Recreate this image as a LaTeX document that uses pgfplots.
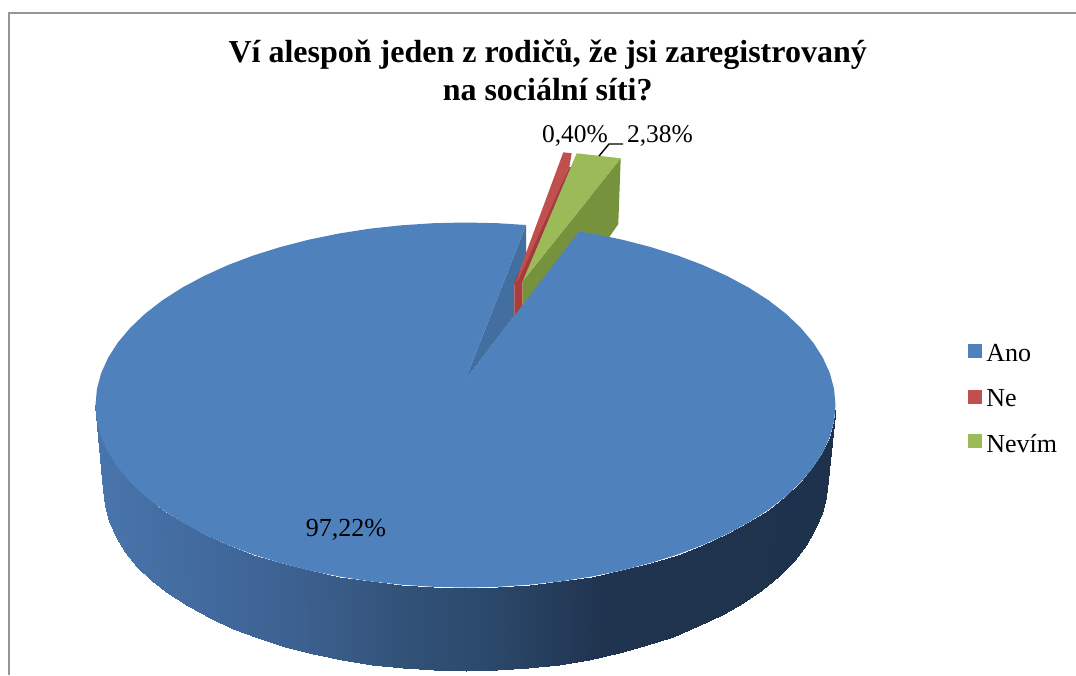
\documentclass[border=0pt]{standalone}
\usepackage{pgfplots}
\pgfplotsset{compat=1.18}
\usepackage{fontspec}
\setmainfont{Liberation Serif}
\definecolor{blueT}{RGB}{79,129,189}
\definecolor{blueW}{RGB}{66,110,160}
\definecolor{redT}{RGB}{192,80,77}
\definecolor{redD}{RGB}{160,60,58}
\definecolor{redM}{RGB}{170,62,60}
\definecolor{greenT}{RGB}{155,187,89}
\definecolor{greenD}{RGB}{118,146,60}
\definecolor{frameG}{RGB}{150,150,150}
\begin{document}
\begin{tikzpicture}
\path[use as bounding box] (0,0) rectangle (1076pt,675pt);
\begin{axis}[
  at={(0pt,0pt)},anchor=south west,
  scale only axis,width=1076pt,height=675pt,
  xmin=0,xmax=1076,ymin=0,ymax=675,y dir=reverse,
  hide axis,
  colormap={side}{rgb255(0pt)=(72,117,172); rgb255(104pt)=(66,106,158); rgb255(204pt)=(60,96,143); rgb255(304pt)=(50,82,120); rgb255(404pt)=(42,71,105); rgb255(504pt)=(32,52,80); rgb255(739pt)=(30,50,76)},
  point meta min=96,point meta max=835,
  title style={at={(axis description cs:0.509,0.938)},anchor=north,align=center,font=\fontsize{32}{38}\selectfont\bfseries},
  title={Ví alespoň jeden z rodičů, že jsi zaregistrovaný\\na sociální síti?},
  legend style={at={(axis description cs:0.8995,0.493)},anchor=north west,draw=none,fill=none,font=\fontsize{26}{30}\selectfont,row sep=22.2pt,inner sep=0pt,legend cell align=left,/tikz/every odd column/.append style={column sep=3pt},nodes={inner xsep=2pt}},
]
\addlegendimage{only marks,mark=square*,mark size=6.6pt,mark options={draw=blueT,fill=blueT,yshift=3pt}}
\addlegendentry{Ano}
\addlegendimage{only marks,mark=square*,mark size=6.6pt,mark options={draw=redT,fill=redT,yshift=2pt}}
\addlegendentry{Ne}
\addlegendimage{only marks,mark=square*,mark size=6.6pt,mark options={draw=greenT,fill=greenT,yshift=3pt}}
\addlegendentry{Nevím}
% frame
\addplot[forget plot,frameG,line width=2pt] coordinates {(8.5,675)(8.5,13)(1076,13)};
% side wall with gradient
\addplot[forget plot,patch,patch type=rectangle,shader=interp,table/row sep=\\,
 patch table={0 1 3 2\\2 3 5 4\\4 5 7 6\\6 7 9 8\\8 9 11 10\\10 11 13 12\\12 13 15 14\\14 15 17 16\\16 17 19 18\\18 19 21 20\\20 21 23 22\\22 23 25 24\\24 25 27 26\\26 27 29 28\\28 29 31 30\\30 31 33 32\\32 33 35 34\\34 35 37 36\\36 37 39 38\\38 39 41 40\\40 41 43 42\\42 43 45 44\\44 45 47 46\\46 47 49 48\\48 49 51 50\\50 51 53 52\\52 53 55 54\\54 55 57 56\\56 57 59 58\\58 59 61 60\\60 61 63 62\\62 63 65 64\\64 65 67 66\\66 67 69 68\\68 69 71 70\\70 71 73 72\\}]
 table[point meta=\thisrow{c}] {
x y c\\
95.5 405 96\\ 103.5 490 96\\
96.9 420.9 97\\ 104.9 505.8 97\\
101.1 436.7 101\\ 109 521.4 101\\
108.1 452.2 108\\ 115.8 536.8 108\\
117.8 467.4 118\\ 125.3 551.9 118\\
130.2 482.1 130\\ 137.4 566.5 130\\
145.1 496.3 145\\ 152 580.5 145\\
162.4 509.7 162\\ 168.9 593.8 162\\
182.1 522.3 182\\ 188.2 606.3 182\\
203.9 534 204\\ 209.5 618 204\\
227.7 544.8 228\\ 232.8 628.6 228\\
253.3 554.5 253\\ 257.9 638.3 253\\
280.5 563 280\\ 284.5 646.7 280\\
309.1 570.4 309\\ 312.5 654 309\\
339 576.5 339\\ 341.7 660.1 339\\
369.7 581.3 370\\ 371.8 664.8 370\\
401.3 584.7 401\\ 402.7 668.2 401\\
433.2 586.8 433\\ 433.9 670.3 433\\
465.5 587.5 465\\ 465.5 671 465\\
497.8 586.8 498\\ 497.1 670.3 498\\
529.7 584.7 530\\ 528.3 668.1 530\\
561.3 581.3 561\\ 559.2 664.5 561\\
592 576.5 592\\ 589.3 659.5 592\\
621.9 570.4 622\\ 618.5 653.1 622\\
650.5 563 650\\ 646.5 645.4 650\\
677.7 554.5 678\\ 673.1 636.5 678\\
703.3 544.8 703\\ 698.2 626.3 703\\
727.1 534 727\\ 721.5 615.1 727\\
748.9 522.3 749\\ 742.8 602.8 749\\
768.6 509.7 769\\ 762.1 589.6 769\\
785.9 496.3 786\\ 779 575.5 786\\
800.8 482.1 801\\ 793.6 560.7 801\\
813.2 467.4 813\\ 805.7 545.3 813\\
822.9 452.2 823\\ 815.2 529.4 823\\
829.9 436.7 830\\ 822 513.2 830\\
834.1 420.9 834\\ 826.1 496.7 834\\
835.5 405 835\\ 827.5 480 835\\
};
% blue inner wall
\addplot[forget plot,fill=blueW,draw=none] coordinates {(465.5,379.5)(526,225)(526,255)(514.3,285)(514.3,316)} -- cycle;
% green (2,38 %)
\addplot[forget plot,fill=greenD,draw=none] coordinates {(620.7,158.3)(618.3,224)(609.3,237)(605,241)(579.3,238)(522.3,306)(522.3,281.7)} -- cycle;
\addplot[forget plot,fill=greenT,draw=none] coordinates {(576.7,153.3)(620.7,158.3)(522.3,281.7)} -- cycle;
% red (0,40 %)
\addplot[forget plot,fill=redM,draw=none] coordinates {(514.3,282)(522.3,282)(522.3,306)(514.3,318)} -- cycle;
\addplot[forget plot,fill=redD,draw=none] coordinates {(569.3,167)(570.9,167)(522.3,282)(514.3,282)} -- cycle;
\addplot[forget plot,fill=redT,draw=none] coordinates {(563.3,152.3)(571.7,153.3)(569.3,167)(518,281)(514.5,282)(516.7,280)(526,253)} -- cycle;
% blue top surface
\addplot[forget plot,fill=blueT,draw=none] coordinates {
(465.5,379.5)(526,225)(497.8,223.2)(465.5,222.5)(433.2,223.2)(401.3,225.3)(369.7,228.7)(339,233.5)(309.1,239.6)(280.5,247)(253.3,255.5)(227.7,265.2)(203.9,276)(182.1,287.7)(162.4,300.3)(145.1,313.7)(130.2,327.9)(117.8,342.6)(108.1,357.8)(101.1,373.3)(96.9,389.1)(95.5,405)
(96.9,420.9)(101.1,436.7)(108.1,452.2)(117.8,467.4)(130.2,482.1)(145.1,496.3)(162.4,509.7)(182.1,522.3)(203.9,534)(227.7,544.8)(253.3,554.5)(280.5,563)(309.1,570.4)(339,576.5)(369.7,581.3)(401.3,584.7)(433.2,586.8)(465.5,587.5)
(497.8,586.8)(529.7,584.7)(561.3,581.3)(592,576.5)(621.9,570.4)(650.5,563)(677.7,554.5)(703.3,544.8)(727.1,534)(748.9,522.3)(768.6,509.7)(785.9,496.3)(800.8,482.1)(813.2,467.4)(822.9,452.2)(829.9,436.7)(834.1,420.9)(835.5,405)
(834.1,389.1)(829.9,373.3)(822.9,357.8)(813.2,342.6)(800.8,327.9)(785.9,313.7)(768.6,300.3)(748.9,287.7)(727.1,276)(703.3,265.2)(677.7,255.5)(650.5,247)(621.9,239.6)(592,233.5)(579,231.5)
} -- cycle;
% leader line
\addplot[forget plot,black,line width=1.4pt] coordinates {(599,156)(609,144)(623,144)};
% data labels
\node[font=\fontsize{25.5}{30}\selectfont,inner sep=0pt] at (axis cs:575,136) {0,40\%};
\node[font=\fontsize{25.5}{30}\selectfont,inner sep=0pt] at (axis cs:660,136) {2,38\%};
\node[font=\fontsize{26}{30}\selectfont,inner sep=0pt] at (axis cs:346,530) {97,22\%};
\end{axis}
\end{tikzpicture}
\end{document}
